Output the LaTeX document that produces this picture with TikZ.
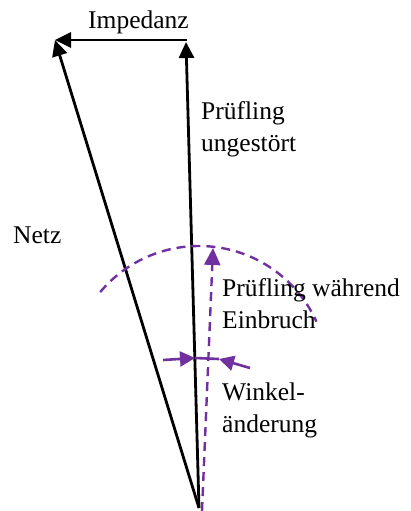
\documentclass[tikz,border=0pt]{standalone}
\usepackage{fontspec}
\setmainfont{Liberation Serif}
\usetikzlibrary{arrows.meta}
\definecolor{violet}{HTML}{7030A0}
\tikzset{
  vec/.style={line width=2.8pt, -{Triangle[length=16pt,width=15pt]}},
  pvec/.style={violet, line width=2.6pt, -{Triangle[length=15pt,width=15pt]}},
  pdash/.style={violet, line width=2.4pt, dash pattern=on 9pt off 6pt},
  lbl/.style={font=\fontsize{25.5}{32}\selectfont, inner sep=0pt, anchor=base west, align=left}
}
\begin{document}
\begin{tikzpicture}[x=1pt,y=-1pt]
\useasboundingbox (0,0) rectangle (411,511);
\coordinate (O) at (199,508);
\coordinate (N) at (55,40);
\coordinate (P) at (186,42);
\coordinate (Ptop) at (187,40);
\coordinate (Od) at (202,511);
\coordinate (E) at (213,248);
\coordinate (wl) at (163,360);
\coordinate (wa) at (195,358);
\coordinate (wb) at (219,359);
\coordinate (wr) at (250,368);
% black vectors
\draw[vec] (O) -- (N);
\draw[vec] (O) -- (P);
\draw[vec] (Ptop) -- (N);
% purple
\draw[pdash] (199,375) ++(-140:129) arc[start angle=-140, end angle=-24.4, radius=129];
\draw[pdash, -{Triangle[length=17pt,width=16pt]}] (Od) -- (E);
\draw[violet, line width=2.6pt] (wa) -- (wb);
\draw[pvec] (wl) -- (wa);
\draw[pvec] (wr) -- (wb);
% labels
\node[lbl] (timp) at (88,29) {Impedanz};
\node[lbl] (tpu) at (201,151) {Prüfling\\ungestört};
\node[lbl] (tnetz) at (13,243) {Netz};
\node[lbl] (tpw) at (222,328) {Prüfling während\\Einbruch};
\node[lbl] (tw) at (222,432) {Winkel-\\änderung};
\end{tikzpicture}
\end{document}
